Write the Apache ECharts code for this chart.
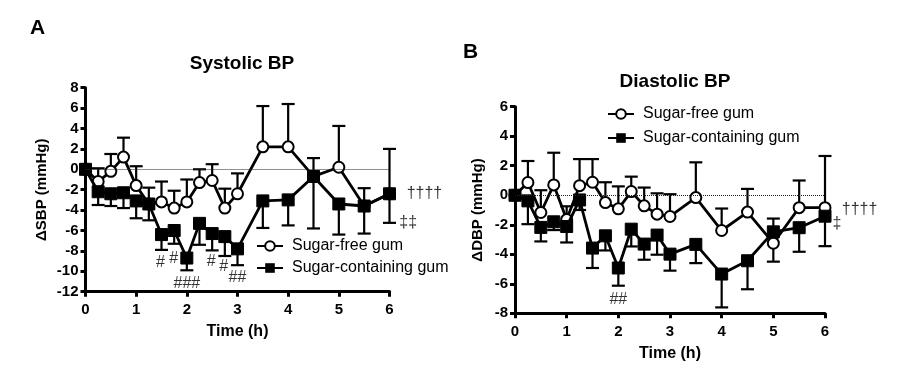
<!DOCTYPE html>
<html>
<head>
<meta charset="utf-8">
<script src="https://cdn.jsdelivr.net/npm/echarts@6/dist/echarts.min.js"></script>
<style>
  body { margin: 0; background: #fff; }
  #chart { width: 905px; height: 375px; }
</style>
</head>
<body>
<div id="chart"></div>
<script>
// time points (h)
var timeH = [0, 0.25, 0.5, 0.75, 1, 1.25, 1.5, 1.75, 2, 2.25, 2.5, 2.75, 3, 3.5, 4, 4.5, 5, 5.5, 6]

// systolic: means and error bar end values
var sbpFree = [0, -1.2, -0.2, 1.2, -1.6, -3.4, -3.2, -3.8, -3.2, -1.3, -1.1, -3.8, -2.4, 2.2, 2.2, -0.7, 0.2, -3.6, -2.4]
var sbpFreeEnd = [null, 0.1, 1.5, 3.1, 0.3, -1.8, -1.2, -2.1, -1.0, 0, 0.5, -1.9, -0.4, 6.2, 6.4, 1.1, 4.25, -1.85, 2.0]
var sbpSugar = [0, -2.2, -2.4, -2.3, -3.1, -3.4, -6.4, -6.0, -8.7, -5.3, -6.3, -6.6, -7.8, -3.1, -3.0, -0.7, -3.4, -3.6, -2.4]
var sbpSugarEnd = [null, -3.5, -3.6, -3.8, -4.8, -5.0, -7.9, -7.3, -9.9, -7.4, -7.95, -8.5, -9.4, -5.75, -5.5, -5.8, -6.4, -6.3, -5.25]

// diastolic
var dbpFree = [0, 0.86, -1.17, 0.7, -1.65, 0.65, 0.88, -0.5, -0.92, 0.25, -0.72, -1.28, -1.44, -0.16, -2.39, -1.14, -3.25, -0.84, -0.84]
var dbpFreeEnd = [null, 2.32, 0.34, 2.88, -0.75, 2.45, 2.45, 0.88, 0.6, 1.26, 0.52, 0.13, 0.07, 2.23, -0.9, 0.43, -4.5, 1.0, 2.66]
var dbpSugar = [0, -0.38, -2.18, -1.8, -2.12, -0.32, -3.58, -2.75, -4.93, -2.3, -3.31, -2.7, -3.99, -3.33, -5.34, -4.44, -2.48, -2.2, -1.42]
var dbpSugarEnd = [null, -1.96, -3.13, -2.36, -3.2, -1.0, -4.93, -3.74, -6.13, -3.47, -4.37, -4.03, -5.11, -4.6, -7.6, -6.37, -1.58, -3.83, -3.45]

// significance marks [x, y, text]
var marksA = [[1.48, -9.1, '#'], [1.74, -8.8, '#'], [2.0, -11.2, '###'], [2.48, -9.0, '#'], [2.73, -9.5, '#'], [3.0, -10.6, '##'], [6.69, -2.35, '††††'], [6.37, -5.2, '‡‡']]
var marksB = [[2.0, -7.1, '##'], [6.67, -1.0, '††††'], [6.23, -1.9, '‡']]

var names = ['Sugar-free gum', 'Sugar-containing gum']
var font = "'Liberation Sans', Arial, sans-serif"

function pairs (ys) {
  return timeH.map(function (t, i) { return [t, ys[i]] })
}
function errData (ys, ends) {
  var out = []
  timeH.forEach(function (t, i) {
    if (ends[i] !== null) out.push([t, ys[i], ends[i]])
  })
  return out
}
function errBar (params, api) {
  var p = api.coord([api.value(0), api.value(1)])
  var e = api.coord([api.value(0), api.value(2)])
  var st = { stroke: '#000', lineWidth: 2.2 }
  return {
    type: 'group',
    children: [
      { type: 'line', shape: { x1: p[0], y1: p[1], x2: e[0], y2: e[1] }, style: st },
      { type: 'line', shape: { x1: e[0] - 6.5, y1: e[1], x2: e[0] + 6.5, y2: e[1] }, style: st }
    ]
  }
}

function axisX (grid, nameGap) {
  return {
    type: 'value', gridIndex: grid, min: 0, max: 6, interval: 1,
    name: 'Time (h)', nameLocation: 'middle', nameGap: nameGap,
    nameTextStyle: { fontFamily: font, fontWeight: 'bold', fontSize: 16, color: '#000' },
    axisLine: { onZero: false, lineStyle: { color: '#000', width: 3 } },
    axisTick: { length: 5, lineStyle: { color: '#000', width: 3 } },
    axisLabel: { fontFamily: font, fontWeight: 'bold', fontSize: 15, color: '#000', margin: 11 },
    splitLine: { show: false }
  }
}
function axisY (grid, min, max, name, nameGap) {
  return {
    type: 'value', gridIndex: grid, min: min, max: max, interval: 2,
    name: name, nameLocation: 'middle', nameGap: nameGap, nameRotate: 90,
    nameTextStyle: { fontFamily: font, fontWeight: 'bold', fontSize: 15, color: '#000' },
    axisLine: { show: true, lineStyle: { color: '#000', width: 3 } },
    axisTick: { show: true, length: 5, lineStyle: { color: '#000', width: 3 } },
    axisLabel: { fontFamily: font, fontWeight: 'bold', fontSize: 15, color: '#000', margin: 7 },
    splitLine: { show: false }
  }
}

function seriesSet (ax, free, freeEnd, sugar, sugarEnd, marks) {
  var zero = {
    silent: true, symbol: 'none', label: { show: false },
    lineStyle: { color: '#222', type: 'dotted', width: 1 },
    data: [{ yAxis: 0 }]
  }
  return [
    { type: 'custom', name: 'errFree' + ax, xAxisIndex: ax, yAxisIndex: ax, renderItem: errBar, data: errData(free, freeEnd), z: 2, clip: false },
    { type: 'custom', name: 'errSugar' + ax, xAxisIndex: ax, yAxisIndex: ax, renderItem: errBar, data: errData(sugar, sugarEnd), z: 2, clip: false },
    {
      type: 'line', name: names[0], xAxisIndex: ax, yAxisIndex: ax, data: pairs(free),
      symbol: 'circle', symbolSize: 11, z: 3,
      lineStyle: { color: '#000', width: 2.8 },
      itemStyle: { color: '#fff', borderColor: '#000', borderWidth: 2 },
      markLine: zero
    },
    {
      type: 'line', name: names[1], xAxisIndex: ax, yAxisIndex: ax, data: pairs(sugar),
      symbol: 'rect', symbolSize: 12, z: 4,
      lineStyle: { color: '#000', width: 2.8 },
      itemStyle: { color: '#000', borderColor: '#000' }
    },
    {
      type: 'scatter', name: 'marks' + ax, xAxisIndex: ax, yAxisIndex: ax, data: marks,
      symbolSize: 0, clip: false, silent: true,
      label: {
        show: true, position: 'inside', fontFamily: font, fontSize: 16, color: '#000',
        formatter: function (p) { return p.data[2] }
      }
    }
  ]
}

var myChart = echarts.init(document.getElementById('chart'))
var option = {
  animation: false,
  backgroundColor: '#fff',
  title: [
    { text: 'A', left: 25, top: 13, textStyle: { fontFamily: font, fontWeight: 'bold', fontSize: 21, color: '#000' } },
    { text: 'B', left: 458, top: 37, textStyle: { fontFamily: font, fontWeight: 'bold', fontSize: 21, color: '#000' } },
    { text: 'Systolic BP', left: 237, top: 49, textAlign: 'center', textStyle: { fontFamily: font, fontWeight: 'bold', fontSize: 19, color: '#000' } },
    { text: 'Diastolic BP', left: 670, top: 67, textAlign: 'center', textStyle: { fontFamily: font, fontWeight: 'bold', fontSize: 19, color: '#000' } }
  ],
  legend: [
    {
      data: names, orient: 'vertical', left: 256, top: 238, padding: 0, itemWidth: 26, itemHeight: 12, itemGap: 6,
      textStyle: { fontFamily: font, fontSize: 16, color: '#000', padding: [0, 0, 0, 4] },
      selectedMode: false
    },
    {
      data: names, orient: 'vertical', left: 607, top: 106, padding: 0, itemWidth: 26, itemHeight: 12, itemGap: 8,
      textStyle: { fontFamily: font, fontSize: 16, color: '#000', padding: [0, 0, 0, 4] },
      selectedMode: false
    }
  ],
  grid: [
    { left: 85.5, top: 87.7, width: 304, height: 204 },
    { left: 515, top: 106.7, width: 310, height: 206.6 }
  ],
  xAxis: [axisX(0, 32), axisX(1, 32)],
  yAxis: [axisY(0, -12, 8, 'ΔSBP (mmHg)', 36), axisY(1, -8, 6, 'ΔDBP (mmHg)', 30)],
  series: seriesSet(0, sbpFree, sbpFreeEnd, sbpSugar, sbpSugarEnd, marksA)
    .concat(seriesSet(1, dbpFree, dbpFreeEnd, dbpSugar, dbpSugarEnd, marksB))
}
myChart.setOption(option)
</script>
</body>
</html>
